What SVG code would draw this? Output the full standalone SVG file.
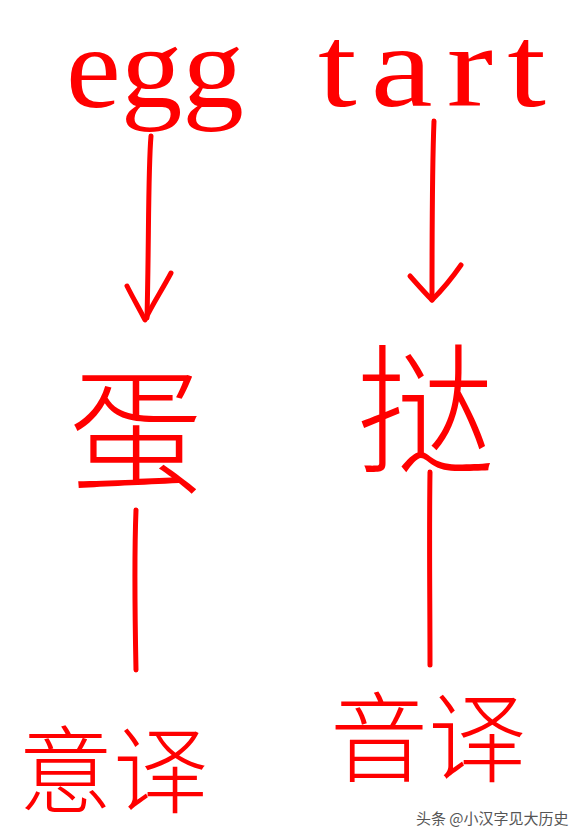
<svg xmlns="http://www.w3.org/2000/svg" width="577" height="836" viewBox="0 0 577 836">
<style>
.en{font-family:"Liberation Serif","Times New Roman",serif;font-size:116px;fill:#ff0000}
.zh{font-family:"Noto Sans CJK SC",sans-serif;font-weight:300;fill:#ff0000;text-anchor:middle}
.ln{fill:none;stroke:#ff0000;stroke-width:5;stroke-linecap:round;stroke-linejoin:round}
.wm{font-family:"Noto Sans CJK SC",sans-serif;font-size:15px;fill:#555}
</style>
<rect width="577" height="836" fill="#ffffff"/>
<g id="node-egg"><text class="en" x="66" y="107" textLength="178" lengthAdjust="spacingAndGlyphs">egg</text></g>
<g id="node-tart"><text class="en" transform="scale(1.2,1)" x="265" y="106" textLength="190">tart</text></g>
<g id="node-dan"><text class="zh" x="136" y="482" font-size="135">蛋</text></g>
<g id="node-ta"><text class="zh" x="425" y="462" font-size="140">挞</text></g>
<g id="node-yiyi"><text class="zh" x="113" y="806" font-size="95">意译</text></g>
<g id="node-yinyi"><text class="zh" x="428" y="774" font-size="98">音译</text></g>
<g id="connectors">
<path class="ln" d="M151,136 C148,170 149,240 147,318"/>
<path class="ln" d="M127,286 C133,298 140,310 145,320 C152,305 162,290 171,273"/>
<path class="ln" d="M434,121 C432,170 432,240 432,300"/>
<path class="ln" d="M410,276 C418,285 425,293 432,300 C442,290 452,278 461,265"/>
<path class="ln" d="M136,510 C134,560 135,620 136,670"/>
<path class="ln" d="M430,472 C429,540 430,600 430,665"/>
</g>
<text class="wm" x="416" y="824">头条 @小汉字见大历史</text>
</svg>
